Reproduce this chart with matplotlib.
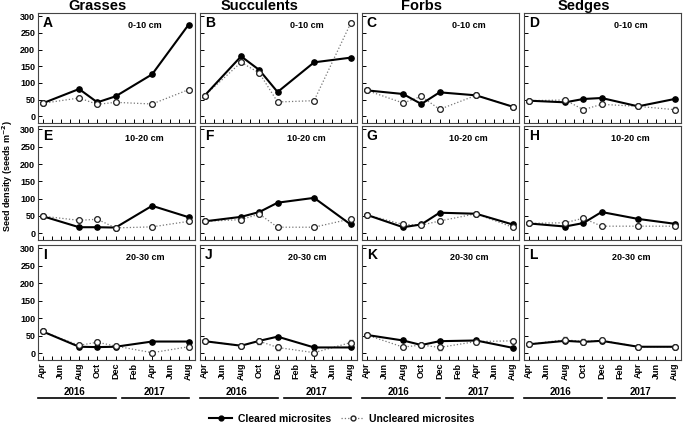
import matplotlib
matplotlib.use("Agg")
import matplotlib.pyplot as plt
from matplotlib.lines import Line2D

plt.rcParams['font.family'] = ['Liberation Sans', 'DejaVu Sans']
plt.rcParams['font.weight'] = 'bold'

# months since Apr 2016
months = [0, 4, 6, 8, 12, 16]
month_ticks = [0, 2, 4, 6, 8, 10, 12, 14, 16]
month_labels = ['Apr', 'Jun', 'Aug', 'Oct', 'Dec', 'Feb', 'Apr', 'Jun', 'Aug']

groups = ['Grasses', 'Succulents', 'Forbs', 'Sedges']
depths = ['0-10 cm', '10-20 cm', '20-30 cm']
letters = ['A', 'B', 'C', 'D', 'E', 'F', 'G', 'H', 'I', 'J', 'K', 'L']

# seed density (seeds m-2), rows = depth, cols = plant group
cleared_A = [39, 82, 42, 60, 126, 275]
uncleared_A = [39, 55, 36, 42, 37, 80]
cleared_B = [62, 180, 139, 73, 162, 176]
uncleared_B = [62, 162, 130, 43, 47, 279]
cleared_C = [78, 67, 37, 72, 63, 29]
uncleared_C = [78, 40, 60, 21, 63, 29]
cleared_D = [47, 42, 52, 55, 30, 52]
uncleared_D = [47, 49, 20, 36, 30, 20]

cleared_E = [49, 17, 17, 16, 79, 46]
uncleared_E = [49, 37, 40, 15, 18, 34]
cleared_F = [34, 47, 61, 88, 102, 25]
uncleared_F = [34, 39, 55, 17, 17, 41]
cleared_G = [53, 17, 25, 59, 56, 25]
uncleared_G = [53, 25, 23, 35, 56, 17]
cleared_H = [28, 19, 29, 61, 41, 27]
uncleared_H = [28, 30, 43, 20, 20, 20]

cleared_I = [62, 18, 17, 18, 33, 33]
uncleared_I = [62, 22, 31, 20, 1, 18]
cleared_J = [34, 21, 35, 47, 16, 16]
uncleared_J = [34, 21, 34, 16, 1, 30]
cleared_K = [52, 36, 23, 34, 36, 15]
uncleared_K = [52, 17, 23, 16, 33, 35]
cleared_L = [25, 35, 32, 35, 18, 18]
uncleared_L = [25, 38, 33, 36, 18, 18]

# standard errors (small, mostly hidden behind markers)
err_D = [3, 4, 5, 4, 3, 8]
err_I = [4, 4, 6, 7, 4, 5]
err_J = [4, 5, 7, 6, 7, 8]
err_K = [4, 4, 4, 7, 6, 6]
err_L = [4, 7, 7, 6, 6, 6]

cleared = [cleared_A, cleared_B, cleared_C, cleared_D,
           cleared_E, cleared_F, cleared_G, cleared_H,
           cleared_I, cleared_J, cleared_K, cleared_L]
uncleared = [uncleared_A, uncleared_B, uncleared_C, uncleared_D,
             uncleared_E, uncleared_F, uncleared_G, uncleared_H,
             uncleared_I, uncleared_J, uncleared_K, uncleared_L]
errors = {3: err_D, 8: err_I, 9: err_J, 10: err_K, 11: err_L}

W, H = 685.0, 425.0
fig = plt.figure(figsize=(6.85, 4.25), dpi=100)

col_left = [38, 200, 362, 524]
col_w = 157
row_top = [13, 126, 245]
row_h = [110, 114, 115]

axes = []
for r in range(3):
    for c in range(4):
        rect = [col_left[c] / W, 1 - (row_top[r] + row_h[r]) / H,
                col_w / W, row_h[r] / H]
        ax = fig.add_axes(rect)
        axes.append(ax)
        i = r * 4 + c
        err = errors.get(i)
        if err is not None:
            ax.errorbar(months, uncleared[i], yerr=err, fmt='none',
                        ecolor='#555555', elinewidth=0.7, capsize=1.5, zorder=1)
        ax.plot(months, uncleared[i], color='#777777', linestyle=':',
                linewidth=0.9, marker='o', markersize=4,
                markerfacecolor='white', markeredgecolor='#222222',
                markeredgewidth=0.8, zorder=2)
        ax.plot(months, cleared[i], color='black', linestyle='-',
                linewidth=1.5, marker='o', markersize=3.8,
                markerfacecolor='black', markeredgecolor='black', zorder=3)
        # open markers on top of shared points
        ax.plot(months, uncleared[i], linestyle='none', marker='o',
                markersize=4, markerfacecolor='white',
                markeredgecolor='#222222', markeredgewidth=0.8, zorder=4)

        ax.set_xlim(-0.5, 16.7)
        ax.set_ylim(-20, 310)
        ax.set_xticks(month_ticks)
        ax.set_xticks(range(17), minor=True)
        ax.set_yticks([0, 50, 100, 150, 200, 250, 300])
        ax.tick_params(direction='in', length=3, width=0.7, labelsize=6.5,
                       pad=2)
        ax.tick_params(which='minor', direction='in', length=3, width=0.7)
        for sp in ax.spines.values():
            sp.set_color('#444444')
            sp.set_linewidth(0.8)

        if c == 0:
            for lab in ax.get_yticklabels():
                lab.set_fontweight('bold')
        else:
            ax.set_yticklabels([])

        if r == 2:
            ax.set_xticklabels(month_labels, rotation=90, fontsize=6.5,
                               fontweight='bold')
            tr = ax.get_xaxis_transform()
            ax.plot([-0.5, 8.0], [-0.33, -0.33], color='black', linewidth=1.2,
                    transform=tr, clip_on=False)
            ax.plot([8.7, 16.0], [-0.33, -0.33], color='black', linewidth=1.2,
                    transform=tr, clip_on=False)
            ax.text(3.5, -0.325, '2016', transform=tr, ha='center',
                    va='bottom', fontsize=7, fontweight='bold')
            ax.text(12.3, -0.325, '2017', transform=tr, ha='center',
                    va='bottom', fontsize=7, fontweight='bold')
        else:
            ax.set_xticklabels([])

        ax.text(0.03, 0.97, letters[i], transform=ax.transAxes, ha='left',
                va='top', fontsize=10, fontweight='bold')
        ax.text(0.68, 0.93, depths[r], transform=ax.transAxes, ha='center',
                va='top', fontsize=6.5, fontweight='bold')

        if r == 0:
            ax.text(0.38, 1.0, groups[c], transform=ax.transAxes,
                    ha='center', va='bottom', fontsize=10.5, fontweight='bold')

fig.text(0.011, 1 - 176 / H, 'Seed density (seeds m$^{\\mathbf{-2}}$)',
         rotation=90, ha='center', va='center', fontsize=6.5,
         fontweight='bold')

handles = [
    Line2D([], [], color='black', linewidth=1.5, marker='o', markersize=3.5),
    Line2D([], [], color='#777777', linestyle=':', linewidth=0.9, marker='o',
           markersize=3.5, markerfacecolor='white', markeredgecolor='#222222'),
]
fig.legend(handles, ['Cleared microsites', 'Uncleared microsites'],
           loc='center', bbox_to_anchor=(342 / W, 1 - 419 / H), ncol=2,
           frameon=False, fontsize=7.5, handlelength=2.2, columnspacing=1.0,
           handletextpad=0.5, borderaxespad=0, borderpad=0)

fig.savefig('out.png', dpi=100)
